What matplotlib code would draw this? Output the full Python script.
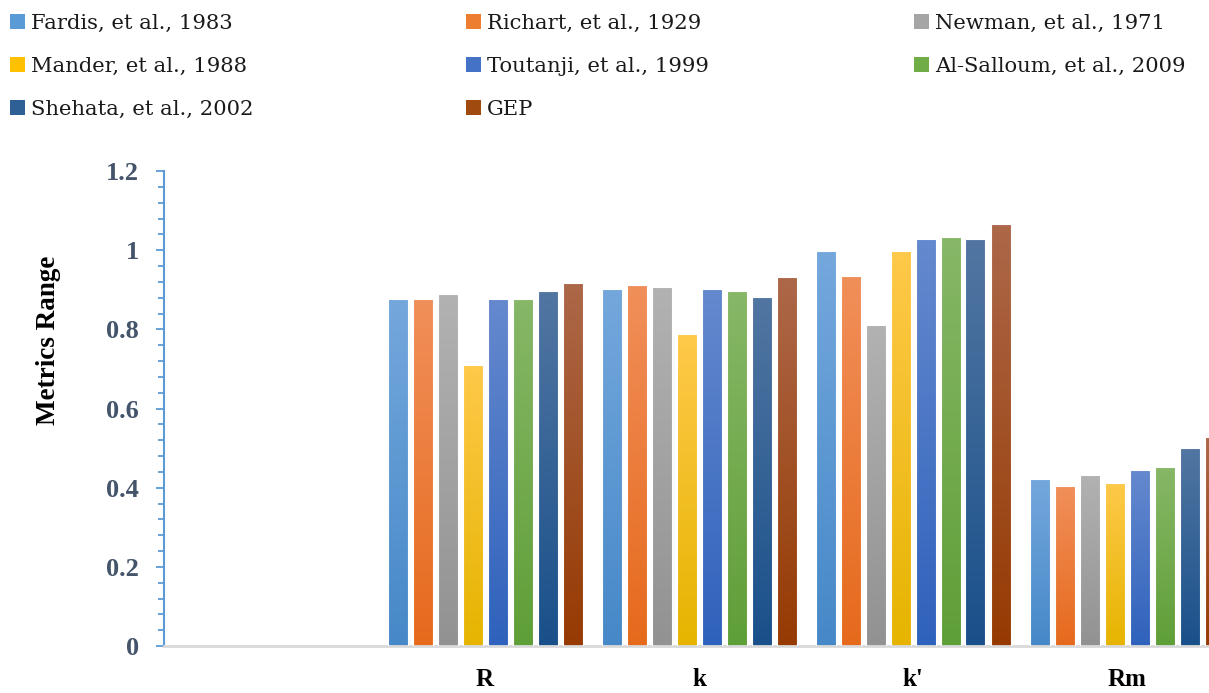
import numpy as np
import matplotlib
matplotlib.use("Agg")
import matplotlib.pyplot as plt
from matplotlib.patches import Patch
from matplotlib.colors import LinearSegmentedColormap
from matplotlib.ticker import MultipleLocator

# Metric categories (the first slot on the axis is left empty)
categories = ["", "R", "k", "k'", "Rm"]

models = [
    "Fardis, et al., 1983",
    "Richart, et al., 1929",
    "Newman, et al., 1971",
    "Mander, et al., 1988",
    "Toutanji, et al., 1999",
    "Al-Salloum, et al., 2009",
    "Shehata, et al., 2002",
    "GEP",
]

fardis     = [0.877, 0.901, 0.997, 0.423]
richart    = [0.876, 0.913, 0.935, 0.404]
newman     = [0.889, 0.907, 0.811, 0.433]
mander     = [0.711, 0.788, 0.999, 0.412]
toutanji   = [0.876, 0.901, 1.027, 0.444]
al_salloum = [0.876, 0.898, 1.033, 0.451]
shehata    = [0.898, 0.882, 1.028, 0.501]
gep        = [0.916, 0.931, 1.066, 0.527]

series = [fardis, richart, newman, mander, toutanji, al_salloum, shehata, gep]

# top / bottom shades of each bar's vertical gradient
top_colors = ["#74A8DD", "#F18F5A", "#B2B2B2", "#FFC94A",
              "#6589CE", "#87B767", "#5276A2", "#AD6849"]
bottom_colors = ["#4688C8", "#E66A1C", "#929292", "#E6B400",
                 "#2F62BC", "#5F9F37", "#19508A", "#963A02"]
mid_colors = ["#5B9BD5", "#ED7D31", "#A5A5A5", "#FFC000",
              "#4472C4", "#70AD47", "#2E6096", "#A04A10"]

W, H = 1209, 693
fig = plt.figure(figsize=(W / 100, H / 100), dpi=100)

left_px, right_px = 164, 1209
bottom_px, top_px = 646, 171
ax = fig.add_axes([left_px / W, 1 - bottom_px / H,
                   (right_px - left_px) / W, (bottom_px - top_px) / H])

cat_px = 214.0
x_max = (right_px - left_px) / cat_px - 0.5

pitch = 25.0 / cat_px
bar_w = 20.0 / cat_px
xpos = np.arange(1, len(categories))

grad = np.linspace(0, 1, 256).reshape(-1, 1)
for j, vals in enumerate(series):
    offs = xpos + (j - (len(series) - 1) / 2) * pitch
    bars = ax.bar(offs, vals, width=bar_w, facecolor="none",
                  edgecolor="white", linewidth=0.8, zorder=3)
    cmap = LinearSegmentedColormap.from_list(
        f"g{j}", [bottom_colors[j], top_colors[j]])
    for b in bars:
        x0, y0 = b.get_x(), b.get_y()
        w, h = b.get_width(), b.get_height()
        im = ax.imshow(grad, cmap=cmap, aspect="auto", origin="lower",
                       extent=(x0, x0 + w, y0, y0 + h), zorder=2,
                       interpolation="bilinear")
        im.set_clip_path(b)

ax.set_xlim(-0.5, x_max)
ax.set_ylim(0, 1.2)

# axes styling
for s in ["top", "right"]:
    ax.spines[s].set_visible(False)
ax.spines["left"].set_color("#5B9BD5")
ax.spines["left"].set_linewidth(1.5)
ax.spines["bottom"].set_color("#D9D9D9")
ax.spines["bottom"].set_linewidth(2)

ax.yaxis.set_major_locator(MultipleLocator(0.2))
ax.yaxis.set_minor_locator(MultipleLocator(0.04))
ax.tick_params(axis="y", which="major", length=6, width=1.3,
               color="#5B9BD5", pad=12)
ax.tick_params(axis="y", which="minor", length=4.5, width=1.3,
               color="#5B9BD5")
ax.set_yticks([0, 0.2, 0.4, 0.6, 0.8, 1.0, 1.2])
ax.set_yticklabels(["0", "0.2", "0.4", "0.6", "0.8", "1", "1.2"],
                   fontfamily="Liberation Serif", fontweight="bold",
                   fontsize=19, color="#44546A")

ax.set_xticks(xpos)
ax.set_xticklabels(categories[1:], fontfamily="Liberation Serif",
                   fontweight="bold", fontsize=18, color="black")
ax.tick_params(axis="x", length=0, pad=16)

fig.text(49 / W, 1 - 340 / H, "Metrics Range", rotation=90,
         ha="center", va="center", fontfamily="Liberation Serif",
         fontweight="bold", fontsize=19.5, color="black")

# legend: three columns, each anchored at its own left edge
columns = [[0, 3, 6], [1, 4, 7], [2, 5]]
col_x = [10, 466, 914]
for idx, cx in zip(columns, col_x):
    leg = fig.legend([Patch(facecolor=mid_colors[i], edgecolor="none") for i in idx],
                     [models[i] for i in idx], ncol=1, loc="upper left",
                     bbox_to_anchor=(cx / W, 1 - 14 / H), frameon=False,
                     prop={"family": "DejaVu Serif", "size": 15.2},
                     handlelength=0.7, handleheight=0.7, handletextpad=0.3,
                     labelspacing=1.13, borderpad=0.0, borderaxespad=0.0)
    for t in leg.get_texts():
        t.set_color("#1A1A1A")

fig.savefig("out.png", dpi=100)
